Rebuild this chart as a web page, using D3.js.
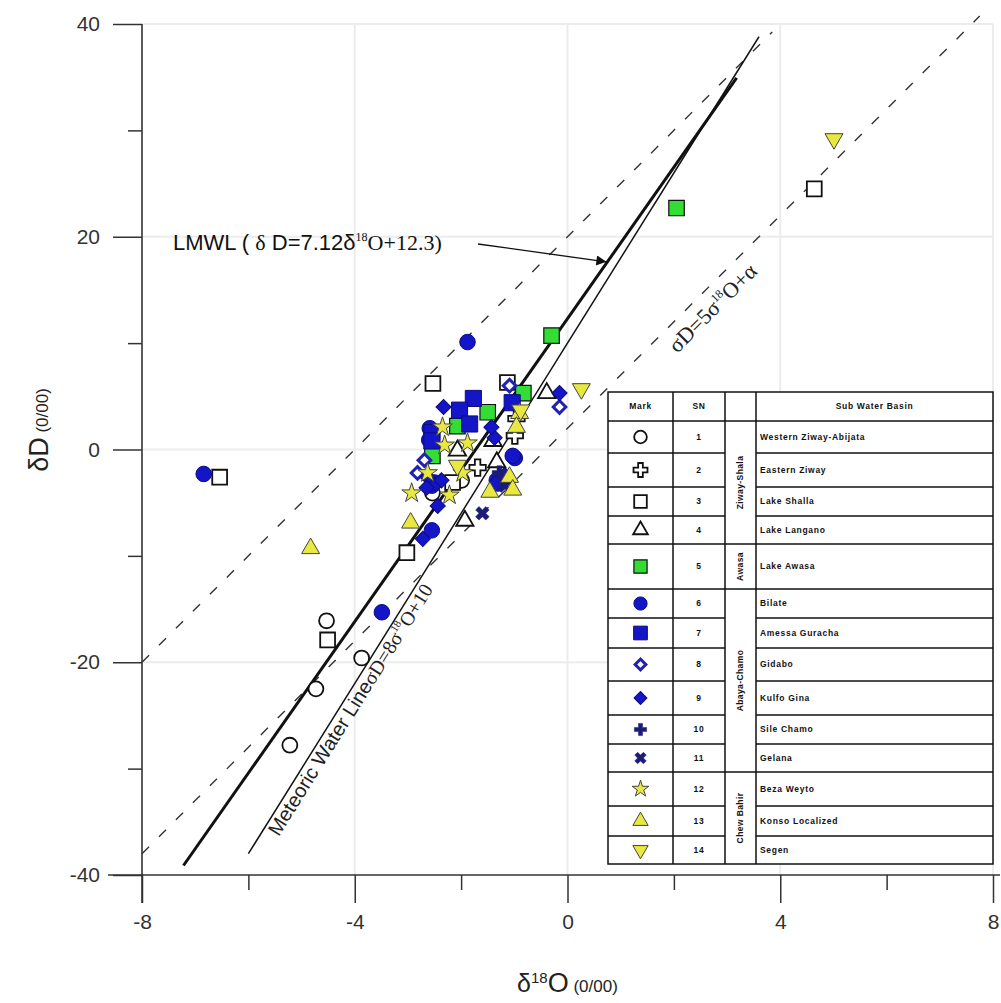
<!DOCTYPE html>
<html>
<head>
<meta charset="utf-8">
<script src="https://cdn.jsdelivr.net/npm/d3@7"></script>
<style>
  body { margin: 0; background: #fff; }
  svg text { font-family: Arial, "Liberation Sans", sans-serif; }
</style>
</head>
<body>
<div id="chart"></div>
<script>
// Data: [d18O, dD] for each sub water basin
var westernZiway = [[-4.53,-16.1],[-3.87,-19.6],[-4.73,-22.5],[-5.22,-27.8],[-2.54,-4.1],[-1.99,-2.9]];
var easternZiway = [[-0.96,2.9],[-0.99,1.3],[-1.69,-1.7]];
var lakeShalla   = [[-6.54,-2.6],[-2.53,6.2],[-1.13,6.3],[4.64,24.5],[-3.02,-9.7],[-4.51,-17.9],[-2.16,-3.1]];
var lakeLangano  = [[-0.39,5.3],[-2.07,-0.1],[-1.33,-1.2],[-1.93,-6.7],[-1.40,0.8]];
var lakeAwasa    = [[2.05,22.7],[-0.30,10.7],[-0.83,5.3],[-1.50,3.5],[-2.07,2.2],[-2.54,-0.6]];
var bilate       = [[-6.84,-2.3],[-1.88,10.1],[-3.49,-15.3],[-2.59,2.0],[-0.99,-0.8],[-2.55,-7.6],[-2.55,-3.4],
                    [-1.33,-2.9],[-2.50,-3.1],[-1.31,-3.2],[-1.03,-0.6],[-2.60,0.9]];
var amessaGuracha= [[-1.77,4.8],[-2.03,3.7],[-1.04,4.4],[-2.55,1.6],[-2.55,0.8],[-1.84,2.4]];
var gidabo       = [[-0.15,4.0],[-2.82,-2.2],[-1.09,6.0],[-2.69,-1.0]];
var kulfoGina    = [[-0.15,5.3],[-2.33,4.0],[-1.37,1.1],[-2.63,-2.6],[-2.37,-2.9],[-2.44,-5.3],[-2.72,-8.4],
                    [-1.43,2.1],[-1.18,-2.4],[-2.65,-3.6]];
var sileChamo    = [[-1.28,-2.2]];
var gelana       = [[-1.60,-6.0],[-1.18,-3.4]];
var bezaWeyto    = [[-2.35,2.1],[-2.31,0.4],[-1.88,0.6],[-1.97,-2.2],[-2.22,-4.3],[-2.93,-4.1],[-2.63,-2.2]];
var konso        = [[-4.83,-9.3],[-2.95,-6.9],[-0.90,3.4],[-0.96,2.1],[-1.09,-2.6],[-1.46,-4.0],[-1.03,-3.8]];
var segen        = [[5.01,29.2],[0.26,5.7],[-2.07,-1.5],[-0.88,3.7]];

var seriesData = [westernZiway, easternZiway, lakeShalla, lakeLangano, lakeAwasa, bilate, amessaGuracha,
                  gidabo, kulfoGina, sileChamo, gelana, bezaWeyto, konso, segen];
var seriesNames = ["Western Ziway-Abijata", "Eastern Ziway", "Lake Shalla", "Lake Langano", "Lake Awasa",
                   "Bilate", "Amessa Guracha", "Gidabo", "Kulfo Gina", "Sile Chamo", "Gelana",
                   "Beza Weyto", "Konso Localized", "Segen"];
var groupNames = ["Ziway-Shala", "Awasa", "Abaya-Chamo", "Chew Bahir"];
var groupRows  = [[0, 3], [4, 4], [5, 10], [11, 13]];

// reference lines: slope, intercept, d18O range
var lmwl = {slope: 7.12, icpt: 12.3, range: [-7.22, 3.18]};
var gmwl = {slope: 8, icpt: 10, range: [-6.0, 3.6]};
var dashHigh = {slope: 5, icpt: 20, range: [-8, 3.85]};
var dashLow  = {slope: 5, icpt: 2, range: [-8, 7.75]};

var xMajor = [-8, -4, 0, 4, 8], xMinor = [-6, -2, 2, 6];
var yMajor = [-40, -20, 0, 20, 40], yMinor = [-30, -10, 10, 30];

// Set up chart area
var svgWidth = 1001, svgHeight = 1003;
var svg = d3.select("#chart").append("svg")
  .attr("width", svgWidth).attr("height", svgHeight);

var x = d3.scaleLinear().domain([-8, 8]).range([142, 993]);
var y = d3.scaleLinear().domain([-40, 40]).range([875, 24]);

// grid
svg.append("g").selectAll("line").data(xMajor.slice(1)).enter().append("line")
  .attr("x1", d => x(d)).attr("x2", d => x(d)).attr("y1", y(40)).attr("y2", y(-40))
  .attr("stroke", "#ececec").attr("stroke-width", 2);
svg.append("g").selectAll("line").data(yMajor.slice(1)).enter().append("line")
  .attr("x1", x(-8)).attr("x2", x(8)).attr("y1", d => y(d)).attr("y2", d => y(d))
  .attr("stroke", "#ececec").attr("stroke-width", 2);

// axes
var axisColor = "#333";
var plain = d => String(d);
var gy = svg.append("g").attr("transform", `translate(${x(-8)},0)`)
  .call(d3.axisLeft(y).tickValues(yMajor).tickSize(29).tickPadding(13).tickFormat(plain));
var gyMinor = svg.append("g").attr("transform", `translate(${x(-8)},0)`)
  .call(d3.axisLeft(y).tickValues(yMinor).tickSize(14).tickFormat(""));
var gx = svg.append("g").attr("transform", `translate(0,${y(-40)})`)
  .call(d3.axisBottom(x).tickValues(xMajor).tickSize(28).tickPadding(11).tickFormat(plain));
var gxMinor = svg.append("g").attr("transform", `translate(0,${y(-40)})`)
  .call(d3.axisBottom(x).tickValues(xMinor).tickSize(15).tickFormat(""));
[gy, gyMinor, gx, gxMinor].forEach(function(g) {
  g.select(".domain").remove();
  g.selectAll("line").attr("stroke", axisColor).attr("stroke-width", 1.5);
  g.selectAll("text").attr("fill", "#333").style("font-size", "21px");
});
svg.append("line").attr("x1", x(-8)).attr("x2", x(-8)).attr("y1", y(40)).attr("y2", 903)
  .attr("stroke", axisColor).attr("stroke-width", 1.6);
svg.append("line").attr("x1", 108).attr("x2", 1000).attr("y1", y(-40)).attr("y2", y(-40))
  .attr("stroke", axisColor).attr("stroke-width", 1.6);

// reference lines
function lineEnds(l) {
  return l.range.map(v => [x(v), y(l.slope * v + l.icpt)]);
}
var lineGen = d3.line();
[dashHigh, dashLow].forEach(function(l) {
  svg.append("path").attr("d", lineGen(lineEnds(l)))
    .attr("stroke", "#333").attr("stroke-width", 1.4).attr("fill", "none")
    .attr("stroke-dasharray", "10,14");
});
svg.append("path").attr("d", lineGen(lineEnds(gmwl)))
  .attr("stroke", "#111").attr("stroke-width", 1.5).attr("fill", "none");
svg.append("path").attr("d", lineGen(lineEnds(lmwl)))
  .attr("stroke", "#111").attr("stroke-width", 3).attr("fill", "none");

// marker styles
var blue = "#1515c8", navy = "#1c1c78", green = "#33dd33", yellow = "#e8e840";
var styles = [
  {type: d3.symbolCircle,   size: 175, fill: "#fff", stroke: "#111", sw: 1.8},
  {type: d3.symbolCross,    size: 150, fill: "#fff", stroke: "#111", sw: 1.8},
  {type: d3.symbolSquare,   size: 220, fill: "#fff", stroke: "#111", sw: 1.8},
  {type: d3.symbolTriangle, size: 130, fill: "#fff", stroke: "#111", sw: 1.8},
  {type: d3.symbolSquare,   size: 240, fill: green,  stroke: "#111", sw: 1.2},
  {type: d3.symbolCircle,   size: 190, fill: blue,   stroke: "#0c0c80", sw: 1},
  {type: d3.symbolSquare,   size: 260, fill: blue,   stroke: "#0c0c80", sw: 1},
  {type: d3.symbolSquare,   size: 80,  fill: "#fff", stroke: "#2222b0", sw: 3, rot: 45},
  {type: d3.symbolSquare,   size: 115, fill: blue,   stroke: "#0c0c80", sw: 1, rot: 45},
  {type: d3.symbolCross,    size: 115, fill: navy,   stroke: navy, sw: 0.5},
  {type: d3.symbolCross,    size: 115, fill: navy,   stroke: navy, sw: 0.5, rot: 45},
  {type: d3.symbolStar,     size: 120, fill: yellow, stroke: "#444", sw: 1},
  {type: d3.symbolTriangle, size: 140, fill: yellow, stroke: "#444", sw: 1},
  {type: d3.symbolTriangle, size: 140, fill: yellow, stroke: "#444", sw: 1, rot: 180}
];

function drawMarker(g, st, cx, cy, scale) {
  g.append("path")
    .attr("d", d3.symbol().type(st.type).size(st.size * scale * scale)())
    .attr("transform", `translate(${cx},${cy}) rotate(${st.rot || 0})`)
    .attr("fill", st.fill).attr("stroke", st.stroke).attr("stroke-width", st.sw);
}

// Points
var pts = svg.append("g");
seriesData.forEach(function(series, i) {
  series.forEach(function(d) {
    drawMarker(pts, styles[i], x(d[0]), y(d[1]), 1);
  });
});

// Axis titles
var xt = svg.append("text").attr("x", x(0)).attr("y", 992).attr("text-anchor", "middle").attr("fill", "#222");
xt.append("tspan").style("font-size", "25px").text("δ");
xt.append("tspan").style("font-size", "15px").attr("dy", -9).text("18");
xt.append("tspan").style("font-size", "27px").attr("dy", 9).text("O");
xt.append("tspan").style("font-size", "17px").text(" (0/00)");

var yt = svg.append("text").attr("transform", "translate(48,430) rotate(-90)")
  .attr("text-anchor", "middle").attr("fill", "#222");
yt.append("tspan").style("font-size", "27px").text("δD");
yt.append("tspan").style("font-size", "17px").text(" (0/00)");

// LMWL annotation
var serif = "'Liberation Serif', 'DejaVu Serif', serif";
var lt = svg.append("text").attr("x", 173).attr("y", 250).attr("fill", "#111").style("font-size", "22px");
lt.append("tspan").text("LMWL ( ");
lt.append("tspan").style("font-family", serif).text("δ");
lt.append("tspan").text(" D=7.12δ");
lt.append("tspan").style("font-family", serif).style("font-size", "12px").attr("dy", -9).text("18");
lt.append("tspan").style("font-family", serif).attr("dy", 9).text("O+12.3)");

svg.append("defs").append("marker").attr("id", "arrow")
  .attr("viewBox", "0 0 10 10").attr("refX", 10).attr("refY", 5)
  .attr("markerWidth", 16).attr("markerHeight", 10).attr("markerUnits", "userSpaceOnUse")
  .attr("orient", "auto")
  .append("path").attr("d", "M0,0L10,5L0,10Z").attr("fill", "#111");
var tipX = 0.75;
svg.append("line").attr("x1", 478).attr("y1", 244)
  .attr("x2", x(tipX) - 1).attr("y2", y(lmwl.slope * tipX + lmwl.icpt))
  .attr("stroke", "#111").attr("stroke-width", 1.3).attr("marker-end", "url(#arrow)");

// rotated line labels
function rotatedLabel(l, at, offset, size) {
  var ang = Math.atan2(y(l.slope * (at + 1) + l.icpt) - y(l.slope * at + l.icpt), x(at + 1) - x(at));
  var px = x(at) - Math.sin(ang) * offset, py = y(l.slope * at + l.icpt) + Math.cos(ang) * offset;
  return svg.append("text")
    .attr("transform", `translate(${px},${py}) rotate(${ang * 180 / Math.PI})`)
    .attr("fill", "#222").style("font-size", size + "px");
}
var gl = rotatedLabel(gmwl, -5.70, 17, 20);
gl.append("tspan").text("Meteoric Water Line");
gl.append("tspan").style("font-family", serif).text("σD=8σ");
gl.append("tspan").style("font-family", serif).style("font-size", "11px").attr("dy", -9).text("18");
gl.append("tspan").style("font-family", serif).attr("dy", 9).text("O+10");

var dl = rotatedLabel(dashLow, 1.73, 25, 22);
dl.style("font-family", serif);
dl.append("tspan").text("σD=5σ");
dl.append("tspan").style("font-size", "12px").attr("dy", -9).text("18");
dl.append("tspan").attr("dy", 9).text("O+α");

// Legend table
var tbl = svg.append("g");
var colX = [608, 673, 725, 756, 993];
var rowH = [29, 32, 34, 29, 28, 45, 29, 30, 33, 34, 29, 28, 34, 30, 28];
var rowY = [392];
rowH.forEach(h => rowY.push(rowY[rowY.length - 1] + h));
var tTop = rowY[0], tBot = rowY[rowY.length - 1];
tbl.append("rect").attr("x", colX[0]).attr("y", tTop).attr("width", colX[4] - colX[0])
  .attr("height", tBot - tTop).attr("fill", "#fff").attr("stroke", "#111").attr("stroke-width", 1.5);
colX.slice(1, 4).forEach(function(cx) {
  tbl.append("line").attr("x1", cx).attr("x2", cx).attr("y1", tTop).attr("y2", tBot)
    .attr("stroke", "#111").attr("stroke-width", 1.5);
});
var groupBreaks = groupRows.map(g => g[1] + 1);
rowY.slice(1, -1).forEach(function(ry, i) {
  var full = (i === 0) || groupBreaks.indexOf(i) >= 0;
  [[colX[0], colX[2]], [colX[3], colX[4]]].forEach(function(seg) {
    tbl.append("line").attr("x1", seg[0]).attr("x2", seg[1]).attr("y1", ry).attr("y2", ry)
      .attr("stroke", "#111").attr("stroke-width", 1.5);
  });
  if (full) {
    tbl.append("line").attr("x1", colX[2]).attr("x2", colX[3]).attr("y1", ry).attr("y2", ry)
      .attr("stroke", "#111").attr("stroke-width", 1.5);
  }
});
function cellText(tx, ty, s, anchor) {
  return tbl.append("text").attr("x", tx).attr("y", ty).attr("dy", "0.35em")
    .attr("text-anchor", anchor || "middle").attr("fill", "#111")
    .style("font-size", "8.5px").style("font-weight", "bold").style("letter-spacing", "0.7px").text(s);
}
var hc = (rowY[0] + rowY[1]) / 2;
cellText((colX[0] + colX[1]) / 2, hc, "Mark");
cellText((colX[1] + colX[2]) / 2, hc, "SN");
cellText((colX[3] + colX[4]) / 2, hc, "Sub Water Basin");
seriesNames.forEach(function(name, i) {
  var cy = (rowY[i + 1] + rowY[i + 2]) / 2;
  drawMarker(tbl, styles[i], (colX[0] + colX[1]) / 2, cy, 0.85);
  cellText((colX[1] + colX[2]) / 2, cy, String(i + 1));
  cellText(colX[3] + 4, cy, name, "start");
});
groupNames.forEach(function(name, k) {
  var cy = (rowY[groupRows[k][0] + 1] + rowY[groupRows[k][1] + 2]) / 2;
  var cx = (colX[2] + colX[3]) / 2;
  tbl.append("text").attr("transform", `translate(${cx},${cy}) rotate(-90)`)
    .attr("dy", "0.35em").attr("text-anchor", "middle").attr("fill", "#111")
    .style("font-size", "8.5px").style("font-weight", "bold").style("letter-spacing", "0.4px").text(name);
});
</script>
</body>
</html>
